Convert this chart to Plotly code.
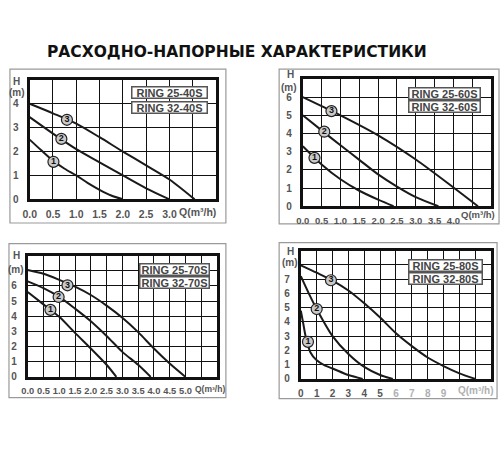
import plotly.graph_objects as go

# ---------------- data ----------------
title_text = "РАСХОДНО-НАПОРНЫЕ ХАРАКТЕРИСТИКИ"

models = [["RING 25-40S", "RING 32-40S"],
          ["RING 25-60S", "RING 32-60S"],
          ["RING 25-70S", "RING 32-70S"],
          ["RING 25-80S", "RING 32-80S"]]

# panel 1 (25-40S)
p1_c1_q = [0, 0.25, 0.5, 0.75, 1.0, 1.25, 1.5, 1.75, 2.0]
p1_c1_h = [2.5, 2.05, 1.62, 1.28, 1.0, 0.68, 0.4, 0.16, 0]
p1_c2_q = [0, 0.5, 1.0, 1.5, 2.0, 2.5, 3.0]
p1_c2_h = [3.44, 2.75, 2.1, 1.55, 1.0, 0.46, 0]
p1_c3_q = [0, 0.5, 1.0, 1.5, 2.0, 2.5, 3.0, 3.54]
p1_c3_h = [4.0, 3.6, 3.17, 2.6, 2.0, 1.42, 0.83, 0]
p1_lbl_q = [0.51, 0.68, 0.80]
p1_lbl_h = [1.57, 2.53, 3.33]

# panel 2 (25-60S)
p2_c1_q = [0, 0.5, 1.0, 1.5, 2.0, 2.41]
p2_c1_h = [3.3, 2.3, 1.48, 0.85, 0.36, 0]
p2_c2_q = [0, 0.5, 1.0, 1.5, 2.0, 2.5, 3.0, 3.6]
p2_c2_h = [5.0, 4.17, 3.35, 2.55, 1.75, 1.08, 0.5, 0]
p2_c3_q = [0, 0.5, 1.0, 2.0, 3.0, 4.0, 4.65]
p2_c3_h = [6.0, 5.5, 5.0, 3.9, 2.57, 1.03, 0]
p2_lbl_q = [0.31, 0.57, 0.76]
p2_lbl_h = [2.66, 4.1, 5.23]

# panel 3 (25-70S)
p3_c1_q = [0, 0.5, 1.0, 1.5, 2.0, 2.5, 2.81]
p3_c1_h = [5.6, 4.78, 3.96, 2.9, 1.87, 0.8, 0]
p3_c2_q = [0, 0.5, 1.0, 1.5, 2.0, 2.5, 3.0, 3.5, 3.9]
p3_c2_h = [6.3, 5.85, 5.27, 4.5, 3.67, 2.7, 1.65, 0.8, 0]
p3_c3_q = [0, 0.5, 1.0, 1.5, 2.0, 2.5, 3.0, 3.5, 4.0, 4.5, 5.0]
p3_c3_h = [7.05, 6.8, 6.4, 5.95, 5.4, 4.7, 3.9, 2.95, 1.87, 0.88, 0]
p3_lbl_q = [0.72, 0.98, 1.26]
p3_lbl_h = [4.42, 5.27, 6.04]

# panel 4 (25-80S)
p4_c1_q = [0, 0.15, 0.3, 0.6, 1.0, 1.5, 2.0, 3.0, 3.9]
p4_c1_h = [4.78, 3.9, 3.0, 1.87, 1.3, 0.95, 0.73, 0.27, 0]
p4_c2_q = [0, 0.5, 1.0, 2.0, 3.0, 4.0, 5.0, 5.8]
p4_c2_h = [7.2, 6.0, 4.9, 3.0, 1.75, 0.84, 0.27, 0]
p4_c3_q = [0, 1, 2, 3, 4, 5, 6, 7, 8, 9, 10, 11.0]
p4_c3_h = [7.97, 7.45, 6.9, 6.2, 5.3, 4.3, 3.2, 2.3, 1.5, 0.9, 0.39, 0]
p4_lbl_q = [0.45, 1.0, 1.9]
p4_lbl_h = [2.6, 4.9, 6.92]

# axis ticks
p1_xticks = [0, 0.5, 1.0, 1.5, 2.0, 2.5, 3.0, 3.5, 4.0]
p1_xlabels = ["0.0", "0.5", "1.0", "1.5", "2.0", "2.5", "3.0", "", ""]
p1_yticks = [0, 1, 2, 3, 4, 5]
p1_ylabels = ["0", "1", "2", "3", "4", ""]

p2_xticks = [0, 0.5, 1.0, 1.5, 2.0, 2.5, 3.0, 3.5, 4.0, 4.5, 5.0]
p2_xlabels = ["0.0", "0.5", "1.0", "1.5", "2.0", "2.5", "3.0", "3.5", "4.0", "", ""]
p2_yticks = [0, 1, 2, 3, 4, 5, 6, 7]
p2_ylabels = ["0", "1", "2", "3", "4", "5", "6", ""]

p3_xticks = [0, 0.5, 1.0, 1.5, 2.0, 2.5, 3.0, 3.5, 4.0, 4.5, 5.0, 5.5, 6.0]
p3_xlabels = ["0.0", "0.5", "1.0", "1.5", "2.0", "2.5", "3.0", "3.5", "4.0", "4.5", "5.0", "", ""]
p3_yticks = [0, 1, 2, 3, 4, 5, 6, 7, 8]
p3_ylabels = ["0", "1", "2", "3", "4", "5", "6", "", ""]

p4_xticks = [0, 1, 2, 3, 4, 5, 6, 7, 8, 9, 10, 11, 12]
p4_xlabels = ["0", "1", "2", "3", "4", "5",
              "<span style='color:#b0b0b0'>6</span>", "<span style='color:#b0b0b0'>7</span>",
              "<span style='color:#b0b0b0'>8</span>", "<span style='color:#b0b0b0'>9</span>", "", "", ""]
p4_yticks = [0, 1, 2, 3, 4, 5, 6, 7, 8, 9]
p4_ylabels = ["0", "1", "2", "3", "4", "5", "6", "7", "", ""]

circle_texts = ["1", "2", "3"]

# ---------------- layout helpers ----------------
W, H = 500, 450
def px(x):
    return x / W
def py(y):
    return 1 - y / H

panels = [
    dict(curves=[(p1_c1_q, p1_c1_h), (p1_c2_q, p1_c2_h), (p1_c3_q, p1_c3_h)],
         lbl=(p1_lbl_q, p1_lbl_h), xt=(p1_xticks, p1_xlabels), yt=(p1_yticks, p1_ylabels),
         dom_x=(23, 212), dom_y=(81, 202), outer=(3, 70, 222, 226), tfs=10.5, qfs=10.5,
         hpos=(10, 83), mpos=(10, 94), qpos=(214, 215), boxpos=(164.5, 94, 108.5), boxw=74),
    dict(curves=[(p2_c1_q, p2_c1_h), (p2_c2_q, p2_c2_h), (p2_c3_q, p2_c3_h)],
         lbl=(p2_lbl_q, p2_lbl_h), xt=(p2_xticks, p2_xlabels), yt=(p2_yticks, p2_ylabels),
         dom_x=(300, 491), dom_y=(80, 209), outer=(276, 70, 499, 227), tfs=9.5, qfs=9.5,
         hpos=(288, 76), mpos=(286, 89), qpos=(497, 217), boxpos=(443.5, 94.5, 108), boxw=70),
    dict(curves=[(p3_c1_q, p3_c1_h), (p3_c2_q, p3_c2_h), (p3_c3_q, p3_c3_h)],
         lbl=(p3_lbl_q, p3_lbl_h), xt=(p3_xticks, p3_xlabels), yt=(p3_yticks, p3_ylabels),
         dom_x=(21, 213), dom_y=(259, 382), outer=(2, 247, 222, 403), tfs=9.3, qfs=8.5,
         hpos=(10, 259), mpos=(9, 273), qpos=(223, 394), boxpos=(170, 273.5, 286), boxw=68),
    dict(curves=[(p4_c1_q, p4_c1_h), (p4_c2_q, p4_c2_h), (p4_c3_q, p4_c3_h)],
         lbl=(p4_lbl_q, p4_lbl_h), xt=(p4_xticks, p4_xlabels), yt=(p4_yticks, p4_ylabels),
         dom_x=(298, 491), dom_y=(254, 384), outer=(276, 246, 497, 404), tfs=10, qfs=10,
         hpos=(288, 255), mpos=(287, 266), qpos=(496, 396), boxpos=(444.5, 269.5, 282.5), boxw=72),
]

fig = go.Figure()
shapes = []
annotations = []

for i, p in enumerate(panels):
    n = "" if i == 0 else str(i + 1)
    xa, ya = "x" + n, "y" + n
    for (q, h) in p["curves"]:
        fig.add_trace(go.Scatter(x=q, y=h, xaxis=xa, yaxis=ya, mode="lines",
                                 line=dict(color="#1a1a1a", width=2, shape="spline", smoothing=0.8),
                                 showlegend=False, hoverinfo="skip", cliponaxis=True))
    lq, lh = p["lbl"]
    fig.add_trace(go.Scatter(x=lq, y=lh, xaxis=xa, yaxis=ya, mode="markers+text",
                             text=circle_texts, textposition="middle center",
                             textfont=dict(family="Liberation Sans", size=9, color="#111", weight="bold"),
                             marker=dict(size=11, color="#c9c9c9", line=dict(color="#222", width=1.2)),
                             showlegend=False, hoverinfo="skip", cliponaxis=False))
    xt, xl = p["xt"]
    yt, yl = p["yt"]
    tickfont = dict(family="Liberation Sans", size=p["tfs"], color="#555555", weight="bold")
    common = dict(showgrid=True, gridcolor="#111111", gridwidth=1.2, zeroline=False,
                  showline=True, linecolor="#111111", linewidth=3, mirror=True,
                  ticks="", fixedrange=True)
    fig.layout["xaxis" + n] = dict(domain=[px(p["dom_x"][0]), px(p["dom_x"][1])],
                                   range=[xt[0], xt[-1]], tickmode="array", tickvals=xt, ticktext=xl,
                                   anchor=ya, ticklabelstandoff=3, tickangle=0, tickfont=tickfont, **common)
    fig.layout["yaxis" + n] = dict(domain=[py(p["dom_y"][1]), py(p["dom_y"][0])],
                                   range=[yt[0], yt[-1]], tickmode="array", tickvals=yt, ticktext=yl,
                                   anchor=xa, ticklabelstandoff=6,
                                   tickfont=dict(family="Liberation Sans", size=10, color="#555555", weight="bold"),
                                   **common)
    x0, y0, x1, y1 = p["outer"]
    shapes.append(dict(type="rect", xref="paper", yref="paper", x0=px(x0), x1=px(x1),
                       y0=py(y1), y1=py(y0), line=dict(color="#9a9a9a", width=1.2), layer="below"))
    lab_font = dict(family="Liberation Sans", size=10, color="#555555", weight="bold")
    annotations.append(dict(text="H", x=px(p["hpos"][0]), y=py(p["hpos"][1]), xref="paper", yref="paper",
                            showarrow=False, font=lab_font, xanchor="center", yanchor="middle"))
    annotations.append(dict(text="(m)", x=px(p["mpos"][0]), y=py(p["mpos"][1]), xref="paper", yref="paper",
                            showarrow=False, font=lab_font, xanchor="center", yanchor="middle"))
    qcol = "#b0b0b0" if i == 3 else "#555555"
    annotations.append(dict(text="Q(m³/h)", x=px(p["qpos"][0]), y=py(p["qpos"][1]), xref="paper", yref="paper",
                            showarrow=False, xanchor="right", yanchor="middle",
                            font=dict(family="Liberation Sans", size=p["qfs"], color=qcol, weight="bold")))
    bx, by1, by2 = p["boxpos"]
    for t, byy in zip(models[i], (by1, by2)):
        annotations.append(dict(text=t, x=px(bx), y=py(byy), xref="paper", yref="paper",
                                showarrow=False, xanchor="center", yanchor="middle",
                                font=dict(family="Liberation Sans", size=11, color="#444444", weight="bold"),
                                bgcolor="white", bordercolor="#555555", borderwidth=1.5, borderpad=0,
                                width=p["boxw"], height=10))

annotations.append(dict(text="<b>" + title_text + "</b>", x=px(233.5), y=py(53), xref="paper", yref="paper",
                        showarrow=False, xanchor="center", yanchor="middle",
                        font=dict(family="DejaVu Sans", size=15.5, color="#111111")))

fig.update_layout(width=W, height=H, margin=dict(l=0, r=0, t=0, b=0),
                  paper_bgcolor="white", plot_bgcolor="white",
                  shapes=shapes, annotations=annotations)

fig.write_html("out.html", config={"displayModeBar": False},
               post_script="document.body.style.margin='0';document.body.style.overflow='hidden';")
